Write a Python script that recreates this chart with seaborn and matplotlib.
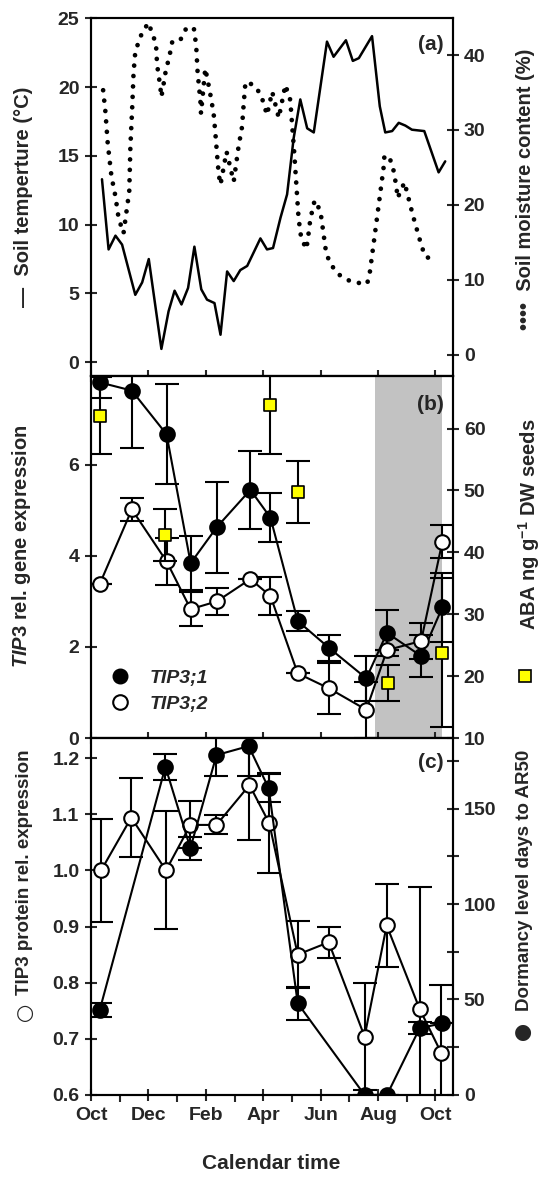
import matplotlib
matplotlib.use("Agg")
import matplotlib.pyplot as plt
import seaborn as sns
from matplotlib.lines import Line2D
from matplotlib.ticker import MultipleLocator, FormatStrFormatter

# x is months counted from 1 October (0) to 1 October next year (12)
month_ticks = [0, 2, 4, 6, 8, 10, 12]
month_labels = ["Oct", "Dec", "Feb", "Apr", "Jun", "Aug", "Oct"]

# (a) soil temperature, weekly
temp_month = [0.38, 0.61, 0.85, 1.08, 1.54, 1.78, 2.01, 2.45, 2.70, 2.91, 3.15, 3.38,
              3.60, 3.84, 4.04, 4.30, 4.51, 4.74, 4.97, 5.20, 5.44, 5.67, 5.90, 6.13,
              6.34, 6.60, 6.83, 7.06, 7.29, 7.53, 7.76, 8.22, 8.45, 8.88, 9.12, 9.33,
              9.79, 10.06, 10.25, 10.49, 10.72, 10.95, 11.18, 11.61, 12.11, 12.34]
temp_c = [13.3, 8.2, 9.2, 8.55, 4.9, 5.8, 7.5, 0.97, 3.7, 5.2, 4.2, 5.4,
          8.4, 5.3, 4.55, 4.3, 2.0, 6.6, 5.9, 6.7, 7.0, 8.0, 9.0, 8.2,
          8.3, 10.5, 12.2, 16.3, 19.1, 17.0, 16.7, 23.3, 22.2, 23.4, 21.9, 22.1,
          23.7, 18.6, 16.7, 16.8, 17.4, 17.2, 16.9, 16.8, 13.8, 14.6]

# (a) soil moisture
moist_month = [0.42, 0.50, 0.58, 0.71, 0.85, 0.96, 1.13, 1.23, 1.33, 1.37, 1.43, 1.48,
               1.54, 1.66, 1.80, 2.01, 2.12, 2.26, 2.30, 2.41, 2.45, 2.53, 2.59, 2.76,
               2.83, 3.11, 3.32, 3.58, 3.63, 3.67, 3.71, 3.81, 3.83, 3.98, 4.13, 4.27,
               4.33, 4.39, 4.45, 4.51, 4.72, 4.97, 5.14, 5.26, 5.32, 5.38, 5.67, 5.92,
               6.13, 6.31, 6.54, 6.77, 6.94, 7.08, 7.23, 7.32, 7.50, 7.55, 7.64, 7.79,
               7.99, 8.19, 8.34, 8.63, 9.00, 9.36, 9.62, 9.71, 9.91, 10.20, 10.22, 10.37,
               10.51, 10.64, 10.68, 10.92, 11.22, 11.53, 11.67, 12.02]
moist_pct = [35.3, 32.4, 28.2, 23.8, 21.1, 18.2, 16.2, 19.0, 21.8, 27.8, 32.7, 37.6,
             40.4, 41.8, 43.2, 44.3, 42.9, 41.6, 38.7, 35.8, 34.4, 36.2, 37.6, 40.4,
             41.8, 42.0, 43.6, 43.6, 42.2, 40.7, 37.8, 33.8, 32.2, 38.2, 35.3, 32.2,
             29.6, 26.7, 24.0, 22.7, 27.1, 23.1, 27.8, 30.4, 33.6, 36.4, 36.0, 34.7,
             32.0, 35.1, 31.6, 36.0, 34.0, 26.9, 18.2, 15.6, 14.1, 15.3, 18.1, 20.6,
             19.2, 13.6, 12.1, 10.7, 9.87, 9.55, 9.47, 10.9, 16.7, 25.2, 26.5, 26.5,
             25.2, 22.4, 20.9, 23.0, 18.5, 14.3, 13.0, 12.8]

# (b) gene expression and ABA
gene_month = [0.30, 1.42, 2.63, 3.47, 4.38, 5.55, 6.25, 7.20, 8.29, 9.59, 10.31, 11.50, 12.24]
tip31 = [7.81, 7.63, 6.67, 3.84, 4.63, 5.45, 4.84, 2.57, 1.98, 1.31, 2.31, 1.80, 2.87]
tip31_err = [0.35, 1.25, 1.10, 0.60, 1.00, 0.85, 0.54, 0.23, 0.29, 0.50, 0.50, 0.47, 0.76]
tip32 = [3.38, 5.02, 3.88, 2.83, 3.00, 3.49, 3.12, 1.42, 1.09, 0.62, 1.93, 2.13, 4.31]
tip32_err = [0, 0.26, 0.52, 0.37, 0.30, 0, 0.41, 0, 0.56, 0.62, 0, 0.40, 0.36]
aba_month = [0.30, 2.59, 6.24, 7.20, 10.35, 12.24]
aba = [62.1, 42.8, 63.8, 49.8, 18.9, 23.8]
aba_err = [6.2, 4.2, 7.9, 5.0, 2.9, 12.0]
shade = [9.88, 12.24]

# (c) protein and dormancy
prot_month = [0.35, 1.40, 2.61, 3.46, 4.37, 5.52, 6.21, 7.20, 8.28, 9.53, 10.30, 11.45, 12.20]
protein = [1.000, 1.094, 1.000, 1.081, 1.081, 1.152, 1.084, 0.850, 0.872, 0.704, 0.902, 0.753, 0.675]
protein_err = [0.092, 0.071, 0.105, 0.042, 0.017, 0.097, 0.089, 0.060, 0.028, 0.096, 0.074, 0.217, 0.120]
dorm_month = [0.30, 2.59, 3.46, 4.37, 5.49, 6.19, 7.20, 9.53, 10.31, 11.45, 12.23]
dormancy = [44.4, 171.9, 129.2, 178.0, 182.7, 160.6, 48.0, 0, 0, 35.0, 37.5]
dormancy_err = [3.5, 6.8, 6.1, 11.0, 15.7, 7.4, 8.5, 0, 0, 3.0, 0]

sns.set_style("ticks")
plt.rcParams["font.family"] = ["Liberation Sans", "DejaVu Sans"]
plt.rcParams.update({
    "font.weight": "bold",
    "axes.labelweight": "bold",
    "mathtext.fontset": "custom",
    "mathtext.rm": "Liberation Sans:bold",
    "mathtext.it": "Liberation Sans:italic:bold",
    "mathtext.bf": "Liberation Sans:bold",
    "axes.linewidth": 1.5,
    "axes.edgecolor": "black",
})

TICK = 14
LAB = 14.5
CAP = 8.5

fig = plt.figure(figsize=(5.4, 11.78), dpi=100)
L, W = 0.1676, 0.6707
ax_a = fig.add_axes([L, 0.6808, W, 0.3043])
ax_b = fig.add_axes([L, 0.3735, W, 0.3073])
ax_c = fig.add_axes([L, 0.0705, W, 0.3031])
ax_a2 = ax_a.twinx()
ax_b2 = ax_b.twinx()
ax_c2 = ax_c.twinx()


def style(ax, bottom_labels=False):
    ax.set_xlim(-0.02, 12.6)
    ax.set_xticks(month_ticks)
    ax.xaxis.set_minor_locator(MultipleLocator(1))
    if bottom_labels:
        ax.set_xticklabels(month_labels)
    else:
        ax.set_xticklabels([])
    ax.tick_params(axis="x", which="major", direction="inout", length=9, width=1.5,
                   labelsize=TICK, pad=4)
    ax.tick_params(axis="x", which="minor", direction="out", length=5, width=1.5)
    ax.tick_params(axis="y", which="both", direction="inout", length=9, width=1.5,
                   labelsize=TICK)
    for s in ax.spines.values():
        s.set_linewidth(1.5)
        s.set_visible(True)


for ax in (ax_a, ax_b, ax_a2, ax_b2):
    style(ax)
for ax in (ax_c, ax_c2):
    style(ax, bottom_labels=True)

# ---- (a)
sns.lineplot(x=temp_month, y=temp_c, sort=False, estimator=None, color="black",
             lw=1.8, ax=ax_a)
sns.lineplot(x=moist_month, y=moist_pct, sort=False, estimator=None, color="black",
             lw=3.4, linestyle=(0, (0.01, 2.2)), dash_capstyle="round", ax=ax_a2)
ax_a.set_ylim(-1.0, 25.05)
ax_a.set_yticks([0, 5, 10, 15, 20, 25])
ax_a2.set_ylim(-2.85, 45.0)
ax_a2.set_yticks([0, 10, 20, 30, 40])
ax_a.set_ylabel("—  Soil temperture (°C)", fontsize=LAB)
ax_a2.set_ylabel("••••  Soil moisture content (%)", fontsize=LAB)
ax_a.text(0.975, 0.925, "(a)", transform=ax_a.transAxes, ha="right", va="center",
          fontsize=15, fontweight="bold")

# ---- (b)
ax_b.axvspan(shade[0], shade[1], color="#c2c2c2", lw=0, zorder=0)
ax_b.errorbar(gene_month, tip31, yerr=tip31_err, fmt="none", ecolor="black",
              elinewidth=1.5, capsize=CAP, capthick=1.5, zorder=2)
ax_b.errorbar(gene_month, tip32, yerr=tip32_err, fmt="none", ecolor="black",
              elinewidth=1.5, capsize=CAP, capthick=1.5, zorder=2)
sns.lineplot(x=gene_month, y=tip31, sort=False, estimator=None, color="black", lw=1.5,
             marker="o", ms=10.5, mfc="black", mec="black", mew=1.5, ax=ax_b, zorder=3)
sns.lineplot(x=gene_month, y=tip32, sort=False, estimator=None, color="black", lw=1.5,
             marker="o", ms=10.5, mfc="white", mec="black", mew=1.5, ax=ax_b, zorder=3)
ax_b2.errorbar(aba_month, aba, yerr=aba_err, fmt="none", ecolor="black",
               elinewidth=1.5, capsize=CAP, capthick=1.5, zorder=2)
sns.scatterplot(x=aba_month, y=aba, marker="s", s=70, color="#ffff00",
                edgecolor="black", linewidth=1.2, ax=ax_b2, zorder=4)
ax_b.set_ylim(0, 7.95)
ax_b.set_yticks([0, 2, 4, 6])
ax_b2.set_ylim(10, 68.5)
ax_b2.set_yticks([10, 20, 30, 40, 50, 60])
ax_b.set_ylabel(r"$\it{TIP3}$ rel. gene expression", fontsize=LAB)
ax_b2.set_ylabel(r"ABA ng g$^{-1}$ DW seeds", fontsize=LAB)
ax_b.text(0.975, 0.92, "(b)", transform=ax_b.transAxes, ha="right", va="center",
          fontsize=15, fontweight="bold")
leg_handles = [Line2D([], [], ls="none", marker="o", ms=10.5, mfc="black", mec="black"),
               Line2D([], [], ls="none", marker="o", ms=10.5, mfc="white", mec="black",
                      mew=1.5)]
ax_b.legend(leg_handles, ["TIP3;1", "TIP3;2"], loc="lower left",
            bbox_to_anchor=(-0.02, 0.02), frameon=False, handletextpad=0.5,
            labelspacing=0.45, prop={"style": "italic", "weight": "bold", "size": TICK})
ax_b2.legend([Line2D([], [], ls="none", marker="s", ms=9, mfc="#ffff00", mec="black",
                     mew=1.2)], [""], loc="center", bbox_to_anchor=(1.2, 0.17),
             frameon=False, handlelength=1, handletextpad=0)

# ---- (c)
ax_c.errorbar(prot_month, protein, yerr=protein_err, fmt="none", ecolor="black",
              elinewidth=1.5, capsize=CAP, capthick=1.5, zorder=2)
sns.lineplot(x=prot_month, y=protein, sort=False, estimator=None, color="black", lw=1.5,
             marker="o", ms=10.5, mfc="white", mec="black", mew=1.5, ax=ax_c, zorder=3)
ax_c2.errorbar(dorm_month, dormancy, yerr=dormancy_err, fmt="none", ecolor="black",
               elinewidth=1.5, capsize=CAP, capthick=1.5, zorder=2)
sns.lineplot(x=dorm_month, y=dormancy, sort=False, estimator=None, color="black", lw=1.5,
             marker="o", ms=10.5, mfc="black", mec="black", mew=1.5, ax=ax_c2, zorder=3)
ax_c.set_ylim(0.6, 1.236)
ax_c.set_yticks([0.6, 0.7, 0.8, 0.9, 1.0, 1.1, 1.2])
ax_c.yaxis.set_major_formatter(FormatStrFormatter("%.1f"))
ax_c2.set_ylim(0, 187)
ax_c2.set_yticks([0, 50, 100, 150])
ax_c2.yaxis.set_minor_locator(MultipleLocator(25))
ax_c.set_ylabel("TIP3 protein rel. expression", fontsize=13.5)
ax_c2.set_ylabel("Dormancy level days to AR50", fontsize=13.5)
ax_c.set_xlabel("Calendar time", fontsize=15, labelpad=22)
ax_c.text(0.975, 0.93, "(c)", transform=ax_c.transAxes, ha="right", va="center",
          fontsize=15, fontweight="bold")
# key symbols at the foot of the (c) axis titles
ax_c.text(-0.18, 0.23, "○", transform=ax_c.transAxes, ha="center", va="center",
          fontsize=15, family="DejaVu Sans")
ax_c2.text(1.195, 0.175, "●", transform=ax_c2.transAxes, ha="center", va="center",
           fontsize=15, family="DejaVu Sans")

ax_a.yaxis.set_label_coords(-0.16, 0.5)
ax_b.yaxis.set_label_coords(-0.16, 0.53)
ax_c.yaxis.set_label_coords(-0.16, 0.625)
ax_a2.yaxis.set_label_coords(1.175, 0.52)
ax_b2.yaxis.set_label_coords(1.175, 0.59)
ax_c2.yaxis.set_label_coords(1.175, 0.6)

fig.savefig("out.png", dpi=100)
